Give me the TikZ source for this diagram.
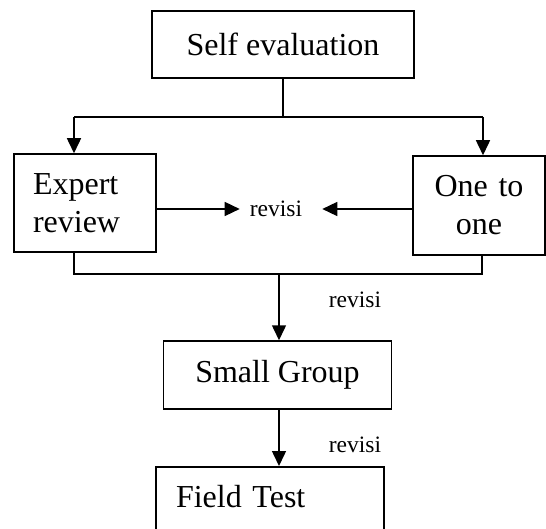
\documentclass[tikz,border=0pt]{standalone}
\usepackage{fontspec}
\setmainfont{Liberation Serif}
\usetikzlibrary{arrows.meta}
\begin{document}
\begin{tikzpicture}[x=1pt,y=-1pt,
  box/.style={draw,line width=1.5pt,rectangle,inner sep=0pt,font=\fontsize{32}{38}\selectfont},
  lbl/.style={font=\fontsize{23.5}{28}\selectfont,inner sep=0pt},
  conn/.style={line width=1.5pt},
  arr/.style={line width=1.5pt,-{Triangle[length=15pt,width=14pt]}}]
\useasboundingbox (0,0) rectangle (546,529);
\clip (0,0) rectangle (546,529);
% nodes
\node[box,minimum width=262pt,minimum height=67pt] (self) at (283,44.5) {Self evaluation};
\node[box,minimum width=142pt,minimum height=98pt,text width=104pt,inner xsep=19pt,align=left] (ex) at (85,203) {Expert\\review};
\node[box,minimum width=132pt,minimum height=99pt,text width=110pt,align=center] (oo) at (479,205.5) {One to\\one};
\node[box,minimum width=228pt,minimum height=68pt] (sg) at (277.5,375) {Small Group};
\node[box,anchor=north,minimum width=228pt,text width=188pt,inner xsep=20pt,inner ysep=0pt,align=left,text height=41pt,text depth=40pt] (ft) at (270,466) {Field Test};
\node[lbl,inner xsep=10pt] (rv1) at (276,209) {revisi};
\node[lbl] (rv2) at (355,300) {revisi};
\node[lbl] (rv3) at (355,445) {revisi};
% coordinates
\coordinate (jl) at (74,117);
\coordinate (jr) at (483,117);
\coordinate (bl) at (74,274);
\coordinate (br) at (482,274);
\coordinate (bm) at (279,274);
% connectors
\draw[conn] (self.south) -- (self.south |- jl);
\draw[conn] (jl) -- (jr);
\draw[arr] (jl) -- (jl |- ex.north);
\draw[arr] (jr) -- (jr |- oo.north);
\draw[arr] (ex.east |- rv1) -- (rv1.west);
\draw[arr,shorten >=10pt] (oo.west |- rv1) -- (rv1.east);
\draw[conn] (bl |- ex.south) -- (bl) -- (br) -- (br |- oo.south);
\draw[arr] (bm) -- (bm |- sg.north);
\draw[arr] (bm |- sg.south) -- (bm |- ft.north);
\end{tikzpicture}
\end{document}
